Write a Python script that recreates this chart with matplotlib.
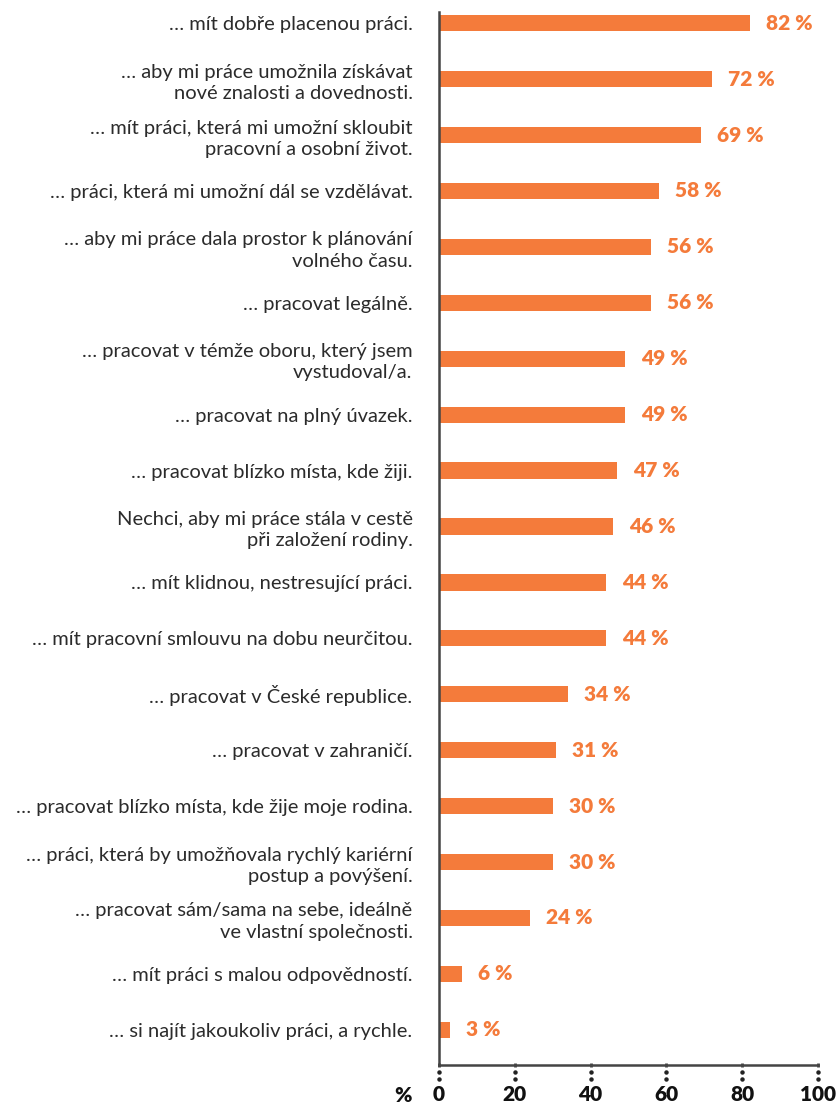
import matplotlib.pyplot as plt
from matplotlib.transforms import offset_copy

# survey answers: what respondents want from a job
labels = [
    "… mít dobře placenou práci.",
    "… aby mi práce umožnila získávat\nnové znalosti a dovednosti.",
    "… mít práci, která mi umožní skloubit\npracovní a osobní život.",
    "… práci, která mi umožní dál se vzdělávat.",
    "… aby mi práce dala prostor k plánování\nvolného času.",
    "… pracovat legálně.",
    "… pracovat v témže oboru, který jsem\nvystudoval/a.",
    "… pracovat na plný úvazek.",
    "… pracovat blízko místa, kde žiji.",
    "Nechci, aby mi práce stála v cestě\npři založení rodiny.",
    "… mít klidnou, nestresující práci.",
    "… mít pracovní smlouvu na dobu neurčitou.",
    "… pracovat v České republice.",
    "… pracovat v zahraničí.",
    "… pracovat blízko místa, kde žije moje rodina.",
    "… práci, která by umožňovala rychlý kariérní\npostup a povýšení.",
    "… pracovat sám/sama na sebe, ideálně\nve vlastní společnosti.",
    "… mít práci s malou odpovědností.",
    "… si najít jakoukoliv práci, a rychle.",
]
values = [82, 72, 69, 58, 56, 56, 49, 49, 47, 46, 44, 44, 34, 31, 30, 30, 24, 6, 3]
xticks = [0, 20, 40, 60, 80, 100]

orange = "#f47b3b"
dark = "#2b2b2b"
axis_col = "#444444"

plt.rcParams["font.family"] = ["Lato", "DejaVu Sans"]

fig = plt.figure(figsize=(8.37, 11.05), dpi=100)
ax = fig.add_axes([0.5245, 0.0362, 0.4528, 0.9529])

pos = list(range(len(values)))
ax.barh(pos, values, height=0.29, color=orange)

ax.set_xlim(0, 100)
ax.set_ylim(18.63, -0.2)

for p, v in zip(pos, values):
    ax.text(v, p, f"{v} %", transform=offset_copy(ax.transData, fig=fig, x=16, y=0, units="dots"),
            ha="left", va="center", fontsize=15, fontweight="heavy", color=orange)

ax.set_yticks(pos)
ax.set_yticklabels(labels, fontsize=14.5, color=dark, linespacing=1.3)
ax.tick_params(axis="y", length=0, pad=19)

ax.set_xticks(xticks)
ax.set_xticklabels([str(t) for t in xticks], fontsize=15, fontweight="heavy", color="#111111")
ax.tick_params(axis="x", length=3, width=2, color=axis_col, direction="inout", pad=13)

for s in ["top", "right"]:
    ax.spines[s].set_visible(False)
for s in ["left", "bottom"]:
    ax.spines[s].set_color(axis_col)
    ax.spines[s].set_linewidth(1.8)

# dotted guides under each tick
for t in xticks:
    ax.plot([t, t], [-0.0067, -0.0135], transform=ax.get_xaxis_transform(),
            linestyle="none", marker="o", markersize=2.2, color="#222222", clip_on=False)

ax.text(-9.5, -0.0285, "%", transform=ax.get_xaxis_transform(), ha="center", va="center",
        fontsize=15, fontweight="heavy", color="#111111")

fig.savefig("out.png", dpi=100)
